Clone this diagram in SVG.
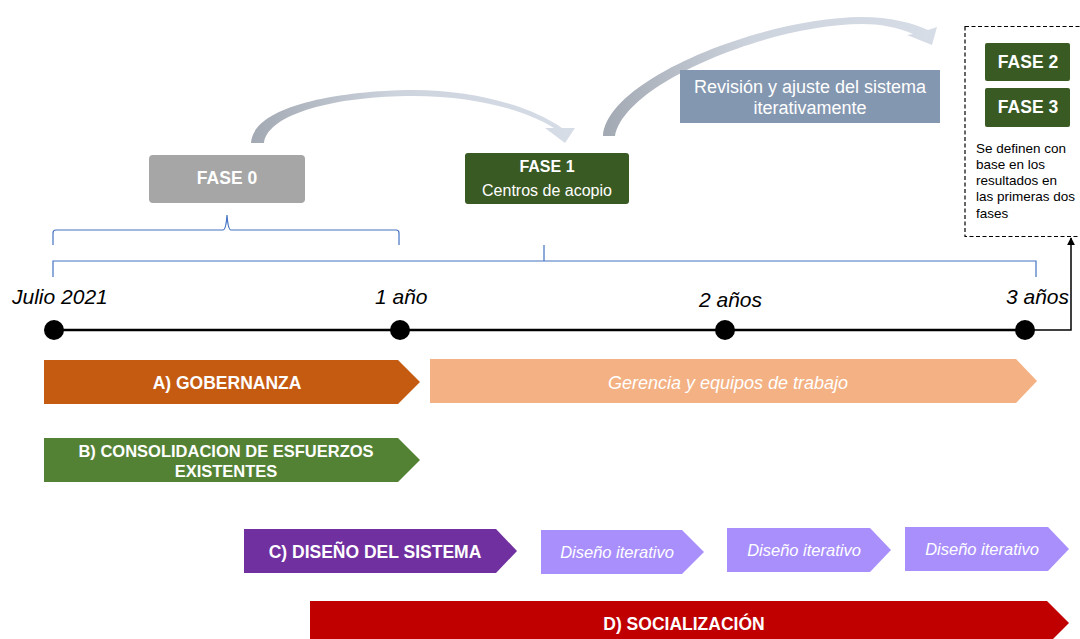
<svg xmlns="http://www.w3.org/2000/svg" width="1080" height="639" viewBox="0 0 1080 639">
<style>
text { font-family: "Liberation Sans", Arial, sans-serif; }
.w { fill: #ffffff; }
.b { font-weight: bold; }
.i { font-style: italic; }
.lbl { font-style: italic; font-size: 21px; fill: #000000; }
.br { fill: none; stroke: #4472c4; stroke-width: 1.2; }
.fase { fill: #3a5a24; }
</style>
<defs>
<linearGradient id="g1" x1="0" y1="0" x2="1" y2="0">
<stop offset="0" stop-color="#a3a9b3"/>
<stop offset="0.45" stop-color="#cdd4de"/>
<stop offset="1" stop-color="#d6dde7"/>
</linearGradient>
<marker id="ah" viewBox="0 0 10 10" refX="9" refY="5" markerWidth="8" markerHeight="8" orient="auto" markerUnits="userSpaceOnUse">
<path d="M0,0 L10,5 L0,10 Z" fill="#000"/>
</marker>
</defs>
<rect width="1080" height="639" fill="#ffffff"/>

<g id="connectors">
<path id="arc1" d="M 251 143 C 253 108, 330 91, 413 90 C 475 90, 530 106, 562 128 L 575 128 L 565 143 L 545 128 L 554 128 C 525 110, 475 96, 413 96 C 338 96, 268 113, 264 143 Z" fill="url(#g1)"/>
<path id="arc2" d="M 603 136 C 606 80, 760 18, 862 17 C 890 17, 913 23, 928 30 L 937 27 L 932 45 L 907 35 L 913 34 C 897 27, 880 24, 862 24 C 772 24, 625 82, 615 136 Z" fill="url(#g1)"/>
<path class="br" d="M 53 245 V 233 Q 53 230 56 230 H 223 Q 226 230 227 215 Q 228 230 231 230 H 396 Q 399 230 399 233 V 245"/>
<path class="br" d="M 53 277 V 261 H 1036 V 277 M 544 245 V 261"/>
<line x1="54" y1="330" x2="1025" y2="330" stroke="#000" stroke-width="2.5"/>
<path d="M 1025 330 H 1071 V 238" fill="none" stroke="#000" stroke-width="1.5" marker-end="url(#ah)"/>
</g>

<g id="timeline-dots">
<circle cx="54" cy="330" r="10" fill="#000"/>
<circle cx="400" cy="330" r="10" fill="#000"/>
<circle cx="725" cy="330" r="10" fill="#000"/>
<circle cx="1025" cy="330" r="10" fill="#000"/>
</g>

<g id="labels">
<text class="lbl" x="12" y="304">Julio 2021</text>
<text class="lbl" x="375" y="304">1 año</text>
<text class="lbl" x="699" y="307">2 años</text>
<text class="lbl" x="1006" y="304">3 años</text>
</g>

<g id="fase0">
<rect x="149" y="155" width="156" height="48" rx="4" fill="#a6a6a6"/>
<text class="w b" x="227" y="184" font-size="17.5" text-anchor="middle">FASE 0</text>
</g>

<g id="fase1">
<rect x="465" y="153" width="164" height="51" rx="3" class="fase"/>
<text class="w b" x="547" y="172" font-size="16" text-anchor="middle">FASE 1</text>
<text class="w" x="547" y="196" font-size="16" text-anchor="middle">Centros de acopio</text>
</g>

<g id="revision">
<rect x="680" y="70" width="260" height="53" fill="#8497b0"/>
<text class="w" x="810" y="93" font-size="18" text-anchor="middle">Revisión y ajuste del sistema</text>
<text class="w" x="810" y="114" font-size="18" text-anchor="middle">iterativamente</text>
</g>

<g id="fases-futuras">
<rect x="965" y="26.5" width="130" height="210" fill="none" stroke="#000" stroke-width="1.2" stroke-dasharray="4 2.5"/>
<rect x="985" y="43" width="85" height="38" rx="2" class="fase"/>
<text class="w b" x="1028" y="68" font-size="17.5" text-anchor="middle">FASE 2</text>
<rect x="985" y="88" width="85" height="39" rx="2" class="fase"/>
<text class="w b" x="1028" y="113" font-size="17.5" text-anchor="middle">FASE 3</text>
<text x="976" y="153" font-size="13.5" fill="#000">Se definen con</text>
<text x="976" y="169" font-size="13.5" fill="#000">base en los</text>
<text x="976" y="185" font-size="13.5" fill="#000">resultados en</text>
<text x="976" y="201" font-size="13.5" fill="#000">las primeras dos</text>
<text x="976" y="218" font-size="13.5" fill="#000">fases</text>
</g>

<g id="gobernanza">
<polygon points="44,360 398,360 420,382 398,404 44,404" fill="#c55a11"/>
<text class="w b" x="227" y="389" font-size="17.5" text-anchor="middle">A) GOBERNANZA</text>
</g>

<g id="gerencia">
<polygon points="430,359 1016,359 1037,381 1016,403 430,403" fill="#f4b183"/>
<text class="w i" x="728" y="389" font-size="18" text-anchor="middle">Gerencia y equipos de trabajo</text>
</g>

<g id="consolidacion">
<polygon points="44,438 398,438 420,460 398,482 44,482" fill="#548235"/>
<text class="w b" x="226" y="457" font-size="16.5" text-anchor="middle">B) CONSOLIDACION DE ESFUERZOS</text>
<text class="w b" x="226" y="477" font-size="16.5" text-anchor="middle">EXISTENTES</text>
</g>

<g id="diseno">
<polygon points="244,529 496,529 517,551 496,573 244,573" fill="#7030a0"/>
<text class="w b" x="375" y="558" font-size="17.5" text-anchor="middle">C) DISEÑO DEL SISTEMA</text>
</g>

<g id="iter1">
<polygon points="541,530 682,530 704,552 682,574 541,574" fill="#a98ffc"/>
<text class="w i" x="617" y="558" font-size="16.5" text-anchor="middle">Diseño iterativo</text>
</g>
<g id="iter2">
<polygon points="727,528 870,528 891,550 870,572 727,572" fill="#a98ffc"/>
<text class="w i" x="804" y="556" font-size="16.5" text-anchor="middle">Diseño iterativo</text>
</g>
<g id="iter3">
<polygon points="905,527 1048,527 1069,549 1048,571 905,571" fill="#a98ffc"/>
<text class="w i" x="982" y="555" font-size="16.5" text-anchor="middle">Diseño iterativo</text>
</g>

<g id="socializacion">
<polygon points="310,601 1047,601 1069,623 1047,645 310,645" fill="#c00000"/>
<text class="w b" x="684" y="630" font-size="17.5" text-anchor="middle">D) SOCIALIZACIÓN</text>
</g>
</svg>
